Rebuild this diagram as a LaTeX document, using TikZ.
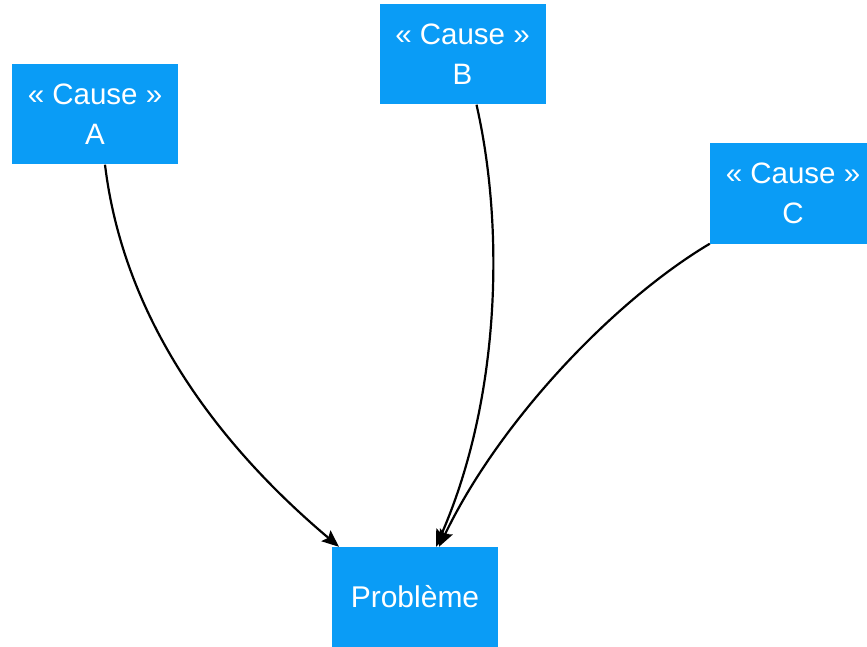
\documentclass[tikz,border=0pt]{standalone}
\usepackage{fontspec}
\setmainfont{Liberation Sans}
\usetikzlibrary{arrows.meta,calc}
\definecolor{boxblue}{RGB}{10,156,246}
\begin{document}
\begin{tikzpicture}[x=1pt,y=-1pt,
  causebox/.style={fill=boxblue,draw=none,minimum width=166pt,minimum height=100pt,inner sep=0pt,
    text=white,align=center,font=\fontsize{29.5}{40}\selectfont},
  link/.style={line width=2.2pt,-{Stealth[length=17pt,width=14pt,inset=3pt]}}]
\useasboundingbox (0,0) rectangle (867,647);
\clip (0,0) rectangle (867,647);
\fill[white] (0,0) rectangle (867,647);
\node[causebox] (A) at (95,114.5) {\raisebox{-2pt}{«~Cause~»}\\\raisebox{-2pt}{A}};
\node[causebox] (B) at (462.5,54.5) {\raisebox{-2pt}{«~Cause~»}\\\raisebox{-2pt}{B}};
\node[causebox] (C) at (793,193.5) {\raisebox{-2pt}{«~Cause~»}\\\raisebox{-2pt}{C}};
\node[causebox,font=\fontsize{30}{36}\selectfont] (P) at (415,597) {\raisebox{-3pt}{Problème}};
\coordinate (a0) at ($(A.south)+(10,0)$);
\coordinate (b0) at ($(B.south)+(14,0)$);
\coordinate (c0) at (C.south west);
\coordinate (pa) at ($(P.north)+(-76,0)$);
\coordinate (pb) at ($(P.north)+(21,0)$);
\coordinate (pc) at ($(P.north)+(24,0)$);
\draw[link] (a0) .. controls (125,330) and (230,455) .. (pa);
\draw[link] (b0) .. controls (505,230) and (500,400) .. (pb);
\draw[link] (c0) .. controls (615,300) and (500,420) .. (pc);
\end{tikzpicture}
\end{document}
